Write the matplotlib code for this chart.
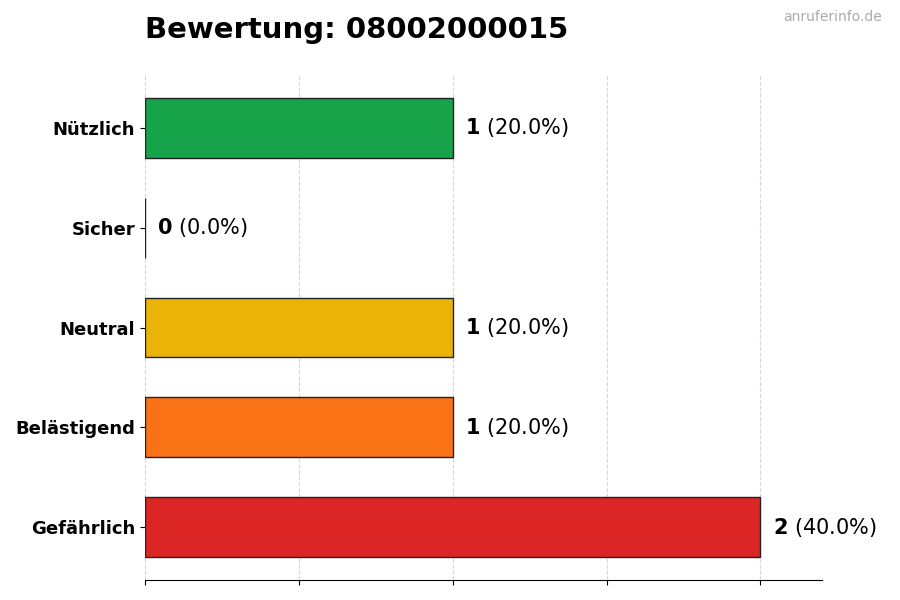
import matplotlib
matplotlib.use("Agg")
import matplotlib.pyplot as plt

categories = ["Gefährlich", "Belästigend", "Neutral", "Sicher", "Nützlich"]
counts = [2, 1, 1, 0, 1]
colors = ["#dc2626", "#f97316", "#eab308", "#22c55e", "#16a34a"]
total = sum(counts)

fig = plt.figure(figsize=(9, 6), dpi=100)
ax = fig.add_axes([145/900, 20/600, 677/900, 505/600])
ypos = list(range(len(categories)))
ax.barh(ypos, counts, height=0.6, color=colors, edgecolor="#222222", linewidth=1, zorder=3)
for y, c in zip(ypos, counts):
    ax.text(c + 0.04, y, f"$\\bf{{{c}}}$ ({c/total*100:.1f}%)", va="center", ha="left", fontsize=15)
ax.set_yticks(ypos)
ax.set_yticklabels(categories, fontsize=13, fontweight="bold")
ax.set_xlim(0, 2.2)
ax.set_ylim(-0.53, 4.53)
ax.set_xticks([0, 0.5, 1, 1.5, 2])
ax.set_xticklabels([])
ax.grid(axis="x", linestyle="--", color="#cccccc", alpha=0.8, zorder=0)
for s in ["top", "right", "left"]:
    ax.spines[s].set_visible(False)
fig.text(145/900, 1 - 30/600, "Bewertung: 08002000015", fontsize=21, fontweight="bold", va="center", ha="left")
fig.text(882/900, 1 - 17/600, "anruferinfo.de", fontsize=10, color="#aaaaaa", va="center", ha="right")
fig.savefig("out.png", dpi=100)
